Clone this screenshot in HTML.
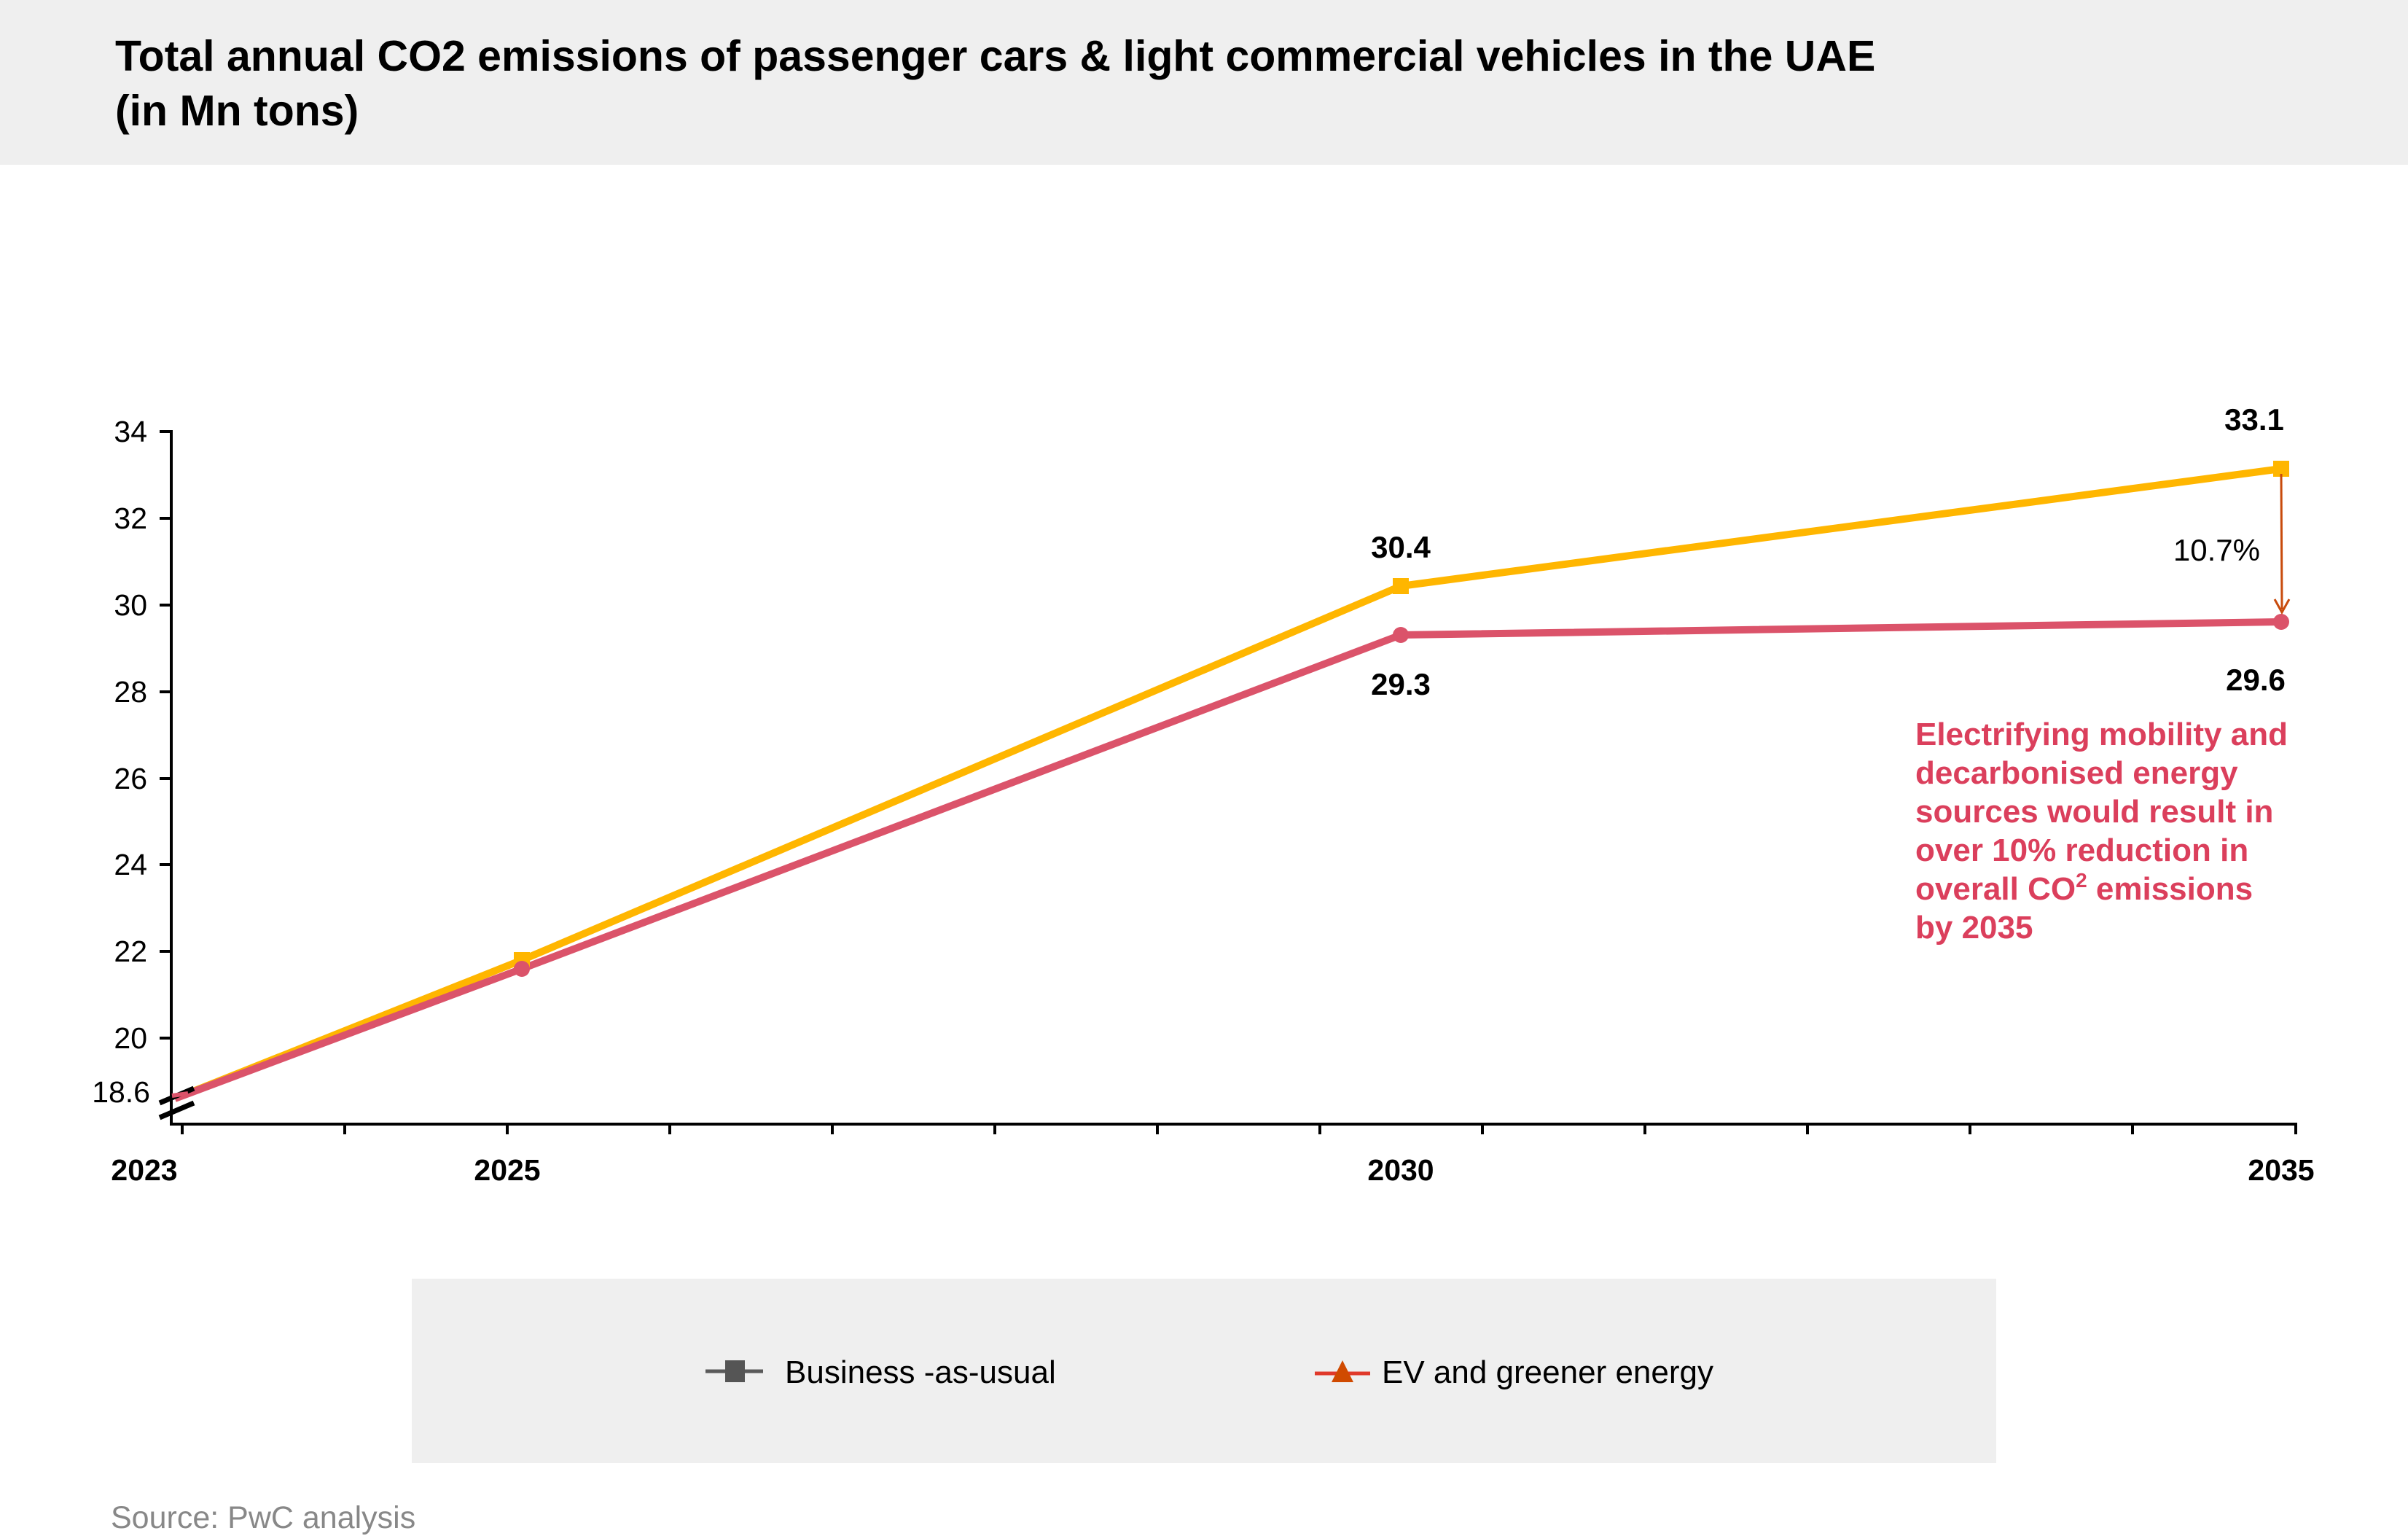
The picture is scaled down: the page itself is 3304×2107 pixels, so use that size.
<!DOCTYPE html>
<html><head><meta charset="utf-8"><style>
html,body{margin:0;padding:0;background:#fff}
svg{display:block}
</style></head><body>
<svg width="3304" height="2107" viewBox="0 0 3304 2107" xmlns="http://www.w3.org/2000/svg" font-family="Liberation Sans, Arial, sans-serif">
<rect x="0" y="0" width="3304" height="226" fill="#efefef"/>
<text x="158" y="97" font-size="59" font-weight="bold" fill="#000">Total annual CO2 emissions of passenger cars &amp; light commercial vehicles in the UAE</text>
<text x="158" y="172" font-size="59" font-weight="bold" fill="#000">(in Mn tons)</text>

<g stroke="#000" stroke-width="4">
<line x1="235" y1="590" x2="235" y2="1544"/>
<line x1="233" y1="1542" x2="3152" y2="1542"/>
<line x1="219" y1="592" x2="235" y2="592"/>
<line x1="219" y1="711" x2="235" y2="711"/>
<line x1="219" y1="830" x2="235" y2="830"/>
<line x1="219" y1="949" x2="235" y2="949"/>
<line x1="219" y1="1068" x2="235" y2="1068"/>
<line x1="219" y1="1186" x2="235" y2="1186"/>
<line x1="219" y1="1305" x2="235" y2="1305"/>
<line x1="219" y1="1424" x2="235" y2="1424"/>
</g>
<g stroke="#000" stroke-width="4">
<line x1="250" y1="1542" x2="250" y2="1556"/><line x1="473" y1="1542" x2="473" y2="1556"/>
<line x1="696" y1="1542" x2="696" y2="1556"/><line x1="919" y1="1542" x2="919" y2="1556"/>
<line x1="1142" y1="1542" x2="1142" y2="1556"/><line x1="1365" y1="1542" x2="1365" y2="1556"/>
<line x1="1588" y1="1542" x2="1588" y2="1556"/><line x1="1811" y1="1542" x2="1811" y2="1556"/>
<line x1="2034" y1="1542" x2="2034" y2="1556"/><line x1="2257" y1="1542" x2="2257" y2="1556"/>
<line x1="2480" y1="1542" x2="2480" y2="1556"/><line x1="2703" y1="1542" x2="2703" y2="1556"/>
<line x1="2926" y1="1542" x2="2926" y2="1556"/><line x1="3150" y1="1542" x2="3150" y2="1556"/>
</g>
<g font-size="41" fill="#000" text-anchor="end">
<text x="202" y="606">34</text><text x="202" y="725">32</text><text x="202" y="844">30</text>
<text x="202" y="963">28</text><text x="202" y="1082">26</text><text x="202" y="1200">24</text>
<text x="202" y="1319">22</text><text x="202" y="1438">20</text><text x="206" y="1512">18.6</text>
</g>
<g font-size="41" font-weight="bold" fill="#000" text-anchor="middle">
<text x="198" y="1619">2023</text><text x="696" y="1619">2025</text>
<text x="1922" y="1619">2030</text><text x="3130" y="1619">2035</text>
</g>

<polyline points="240,1507 716,1317 1922,804 3130,643" fill="none" stroke="#FFB600" stroke-width="10" stroke-linejoin="round"/>
<polyline points="240,1507 716,1329 1922,871 3130,853" fill="none" stroke="#DB536A" stroke-width="10" stroke-linejoin="round"/>
<rect x="705" y="1306" width="22" height="22" fill="#FFB600"/>
<rect x="1911" y="793" width="22" height="22" fill="#FFB600"/>
<rect x="3119" y="632" width="22" height="22" fill="#FFB600"/>
<circle cx="716" cy="1329" r="11" fill="#DB536A"/>
<circle cx="1922" cy="871" r="11" fill="#DB536A"/>
<circle cx="3130" cy="853" r="11" fill="#DB536A"/>
<g stroke="#000" stroke-width="7">
<line x1="219" y1="1513" x2="266" y2="1493"/>
<line x1="219" y1="1533" x2="266" y2="1513"/>
</g>
<line x1="236" y1="1503" x2="258" y2="1500" stroke="#DB536A" stroke-width="6"/>

<line x1="3130" y1="650" x2="3131" y2="836" stroke="#C84B0C" stroke-width="3"/>
<polyline points="3121,822 3131,840 3141,822" fill="none" stroke="#C84B0C" stroke-width="3"/>

<g font-size="42" font-weight="bold" fill="#000" text-anchor="middle">
<text x="1922" y="765">30.4</text><text x="1922" y="953">29.3</text>
<text x="3093" y="590">33.1</text><text x="3095" y="947">29.6</text>
</g>
<text x="3101" y="769" font-size="42" fill="#000" text-anchor="end">10.7%</text>
<g font-size="44" font-weight="bold" fill="#DB3F5C">
<text x="2628" y="1022">Electrifying mobility and</text>
<text x="2628" y="1075">decarbonised energy</text>
<text x="2628" y="1128">sources would result in</text>
<text x="2628" y="1181">over 10% reduction in</text>
<text x="2628" y="1234">overall CO<tspan font-size="28" dy="-17">2</tspan><tspan dy="17"> emissions</tspan></text>
<text x="2628" y="1287">by 2035</text>
</g>

<rect x="565" y="1754" width="2174" height="253" fill="#efefef"/>
<line x1="968" y1="1881" x2="1047" y2="1881" stroke="#5a5a5a" stroke-width="5"/>
<rect x="995" y="1866" width="27" height="30" fill="#555"/>
<text x="1077" y="1897" font-size="44" fill="#000">Business -as-usual</text>
<line x1="1804" y1="1884" x2="1880" y2="1884" stroke="#E0392A" stroke-width="5"/>
<polygon points="1842,1866 1827,1896 1857,1896" fill="#D04A00"/>
<text x="1896" y="1897" font-size="44" fill="#000">EV and greener energy</text>

<text x="152" y="2096" font-size="43" fill="#888">Source: PwC analysis</text>
</svg>
</body></html>
